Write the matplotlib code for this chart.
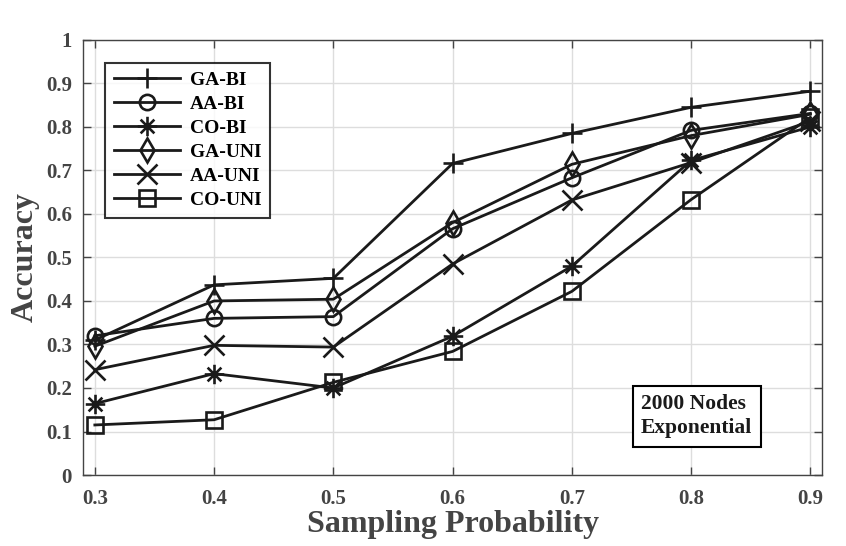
import numpy as np
import matplotlib.pyplot as plt
from matplotlib.path import Path

# dane
p = [0.3, 0.4, 0.5, 0.6, 0.7, 0.8, 0.9]

ga_bi = [0.31, 0.437, 0.452, 0.716, 0.785, 0.845, 0.882]
aa_bi = [0.32, 0.360, 0.364, 0.566, 0.683, 0.792, 0.831]
co_bi = [0.164, 0.233, 0.200, 0.319, 0.480, 0.723, 0.800]
ga_uni = [0.296, 0.400, 0.404, 0.580, 0.714, 0.780, 0.829]
aa_uni = [0.242, 0.298, 0.294, 0.485, 0.632, 0.718, 0.813]
co_uni = [0.115, 0.127, 0.213, 0.284, 0.422, 0.633, 0.822]

names = ['GA-BI', 'AA-BI', 'CO-BI', 'GA-UNI', 'AA-UNI', 'CO-UNI']
series = [ga_bi, aa_bi, co_bi, ga_uni, aa_uni, co_uni]

# gwiazdka jak w MATLABie (plus + x)
d = 0.7071
asterisk = Path([(-1, 0), (1, 0), (0, -1), (0, 1), (-d, -d), (d, d), (-d, d), (d, -d)],
                [Path.MOVETO, Path.LINETO] * 4)

markers = ['+', 'o', asterisk, 'd', 'x', 's']
sizes = [15, 11, 14, 12, 14, 11]

plt.rcParams['font.family'] = ['Liberation Serif', 'DejaVu Serif']
plt.rcParams['font.weight'] = 'bold'

txt = '#444444'

fig = plt.figure(figsize=(8.46, 5.46), dpi=100)
ax = fig.add_axes([0.098, 0.130, 0.874, 0.797])

for y, nm, m, ms in zip(series, names, markers, sizes):
    ax.plot(p, y, color='#1a1a1a', linewidth=2.0, marker=m, markersize=ms,
            markerfacecolor='none', markeredgewidth=1.9, label=nm)

ax.set_xlim(0.29, 0.91)
ax.set_ylim(0, 1)
ax.set_xticks(p)
ax.set_yticks(np.arange(0, 1.01, 0.1))
ax.set_xticklabels(['0.3', '0.4', '0.5', '0.6', '0.7', '0.8', '0.9'])
ax.set_yticklabels(['0', '0.1', '0.2', '0.3', '0.4', '0.5', '0.6', '0.7', '0.8', '0.9', '1'])
ax.grid(True, color='#dddddd', linewidth=1.0)
ax.set_axisbelow(True)
ax.tick_params(direction='in', length=6, width=1.0, colors='#444444', labelsize=15,
               top=True, right=True)
ax.tick_params(axis='x', pad=10)
ax.tick_params(axis='y', pad=8)
for lab in ax.get_xticklabels() + ax.get_yticklabels():
    lab.set_color(txt)
    lab.set_fontweight('bold')
for s in ax.spines.values():
    s.set_color('#444444')
    s.set_linewidth(1.0)

ax.set_xlabel('Sampling Probability', fontsize=23, fontweight='bold', color=txt, labelpad=1)
ax.set_ylabel('Accuracy', fontsize=23, fontweight='bold', color=txt, labelpad=4)

leg = ax.legend(loc='upper left', bbox_to_anchor=(0.017, 0.97), fontsize=14, frameon=True,
                fancybox=False, edgecolor='black', handlelength=3.4, labelspacing=0.33,
                borderpad=0.45, handletextpad=0.5)
leg.get_frame().set_linewidth(1.5)
for t in leg.get_texts():
    t.set_fontweight('bold')

ax.text(0.755, 0.135, '2000 Nodes\nExponential', transform=ax.transAxes, fontsize=15.5,
        fontweight='bold', color='#1a1a1a', ha='left', va='center', linespacing=1.25,
        bbox=dict(boxstyle='square,pad=0.4', facecolor='white', edgecolor='black', linewidth=1.5))

fig.savefig('out.png', dpi=100)
